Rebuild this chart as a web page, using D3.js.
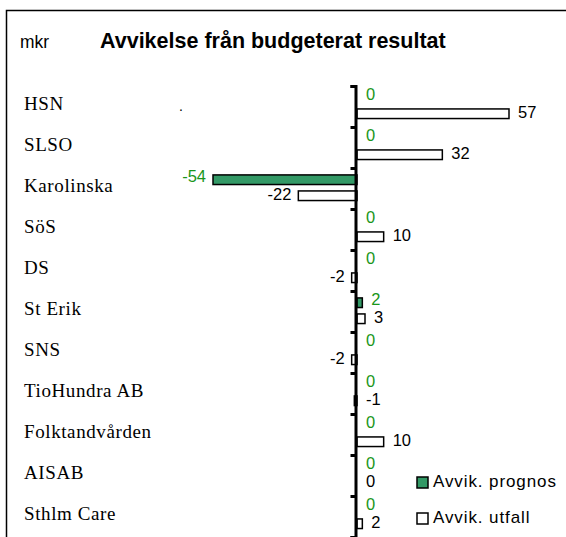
<!DOCTYPE html>
<html>
<head>
<meta charset="utf-8">
<script src="https://cdn.jsdelivr.net/npm/d3@7"></script>
<style>
  body { margin: 0; background: #fff; }
  svg { display: block; }
</style>
</head>
<body>
<div id="chart"></div>
<script>
  // data
  let categories = ["HSN", "SLSO", "Karolinska", "SöS", "DS", "St Erik", "SNS", "TioHundra AB", "Folktandvården", "AISAB", "Sthlm Care"];
  let prognos = [0, 0, -54, 0, 0, 2, 0, 0, 0, 0, 0];
  let utfall = [57, 32, -22, 10, -2, 3, -2, -1, 10, 0, 2];
  let seriesNames = ["Avvik. prognos", "Avvik. utfall"];

  let width = 566;
  let height = 537;

  var svg = d3.select("#chart")
    .append("svg")
    .attr("width", width)
    .attr("height", height);

  // frame (cut off on the right and bottom)
  svg.append("path")
    .attr("d", "M6.5,537 V10.5 H566")
    .attr("fill", "none")
    .attr("stroke", "black")
    .attr("stroke-width", 1.5);

  // titles
  svg.append("text")
    .attr("x", 20).attr("y", 48)
    .attr("font-family", "Liberation Sans, Arial, sans-serif")
    .attr("font-size", "19px")
    .attr("textLength", 29)
    .attr("lengthAdjust", "spacingAndGlyphs")
    .text("mkr");

  svg.append("text")
    .attr("x", 100).attr("y", 48)
    .attr("font-family", "Liberation Sans, Arial, sans-serif")
    .attr("font-weight", "bold")
    .attr("font-size", "21.5px")
    .text("Avvikelse från budgeterat resultat");

  // scales
  var x = d3.scaleLinear().domain([-60, 60]).range([197, 517]);
  var y = d3.scaleBand().domain(categories).range([86, 537]);
  var sub = d3.scaleBand().domain(seriesNames).range([0, y.bandwidth()])
    .paddingInner(0.4).paddingOuter(0.48).align(0.45);

  var colors = { "Avvik. prognos": "#339966", "Avvik. utfall": "#ffffff" };
  var labelColors = { "Avvik. prognos": "#1a961a", "Avvik. utfall": "#000000" };
  var labelShift = { "Avvik. prognos": -2.5, "Avvik. utfall": -0.5 };

  var rows = [];
  categories.forEach(function(c, i) {
    rows.push({ cat: c, series: seriesNames[0], value: prognos[i] });
    rows.push({ cat: c, series: seriesNames[1], value: utfall[i] });
  });

  // category labels
  svg.selectAll("text.cat")
    .data(categories)
    .enter()
    .append("text")
    .attr("class", "cat")
    .attr("x", 24)
    .attr("y", function(d) { return y(d) + y.bandwidth() / 2 - 1; })
    .attr("dominant-baseline", "middle")
    .attr("font-family", "Liberation Serif, Times New Roman, serif")
    .attr("font-size", "19px")
    .attr("letter-spacing", "0.6px")
    .text(function(d) { return d; });

  // stray dot in the HSN row
  svg.append("text")
    .attr("x", 179).attr("y", 111)
    .attr("font-family", "Liberation Sans, Arial, sans-serif")
    .attr("font-size", "14px")
    .text(".");

  // bars
  svg.selectAll("rect.bar")
    .data(rows.filter(function(d) { return d.value !== 0; }))
    .enter()
    .append("rect")
    .attr("class", "bar")
    .attr("x", function(d) { return x(Math.min(0, d.value)); })
    .attr("y", function(d) { return y(d.cat) + sub(d.series); })
    .attr("width", function(d) { return Math.abs(x(d.value) - x(0)); })
    .attr("height", sub.bandwidth())
    .attr("fill", function(d) { return colors[d.series]; })
    .attr("stroke", "black")
    .attr("stroke-width", 1.5);

  // value labels
  svg.selectAll("text.val")
    .data(rows)
    .enter()
    .append("text")
    .attr("class", "val")
    .attr("x", function(d) {
      return d.value <= -1.5 ? x(d.value) - 7 : x(Math.max(0, d.value)) + 9;
    })
    .attr("y", function(d) { return y(d.cat) + sub(d.series) + sub.bandwidth() / 2 + labelShift[d.series]; })
    .attr("dominant-baseline", "middle")
    .attr("text-anchor", function(d) { return d.value <= -1.5 ? "end" : "start"; })
    .attr("font-family", "Liberation Sans, Arial, sans-serif")
    .attr("font-size", "16.5px")
    .attr("fill", function(d) { return labelColors[d.series]; })
    .text(function(d) { return d.value; });

  // vertical axis at zero, ticks on band boundaries
  var edge = d3.scaleLinear().domain([0, categories.length]).range([86, 537]);
  var axis = svg.append("g")
    .attr("transform", "translate(" + (x(0) - 1.5) + ",0)")
    .call(d3.axisLeft(edge).ticks(categories.length).tickSize(5).tickSizeOuter(5).tickFormat(""));
  axis.selectAll("path, line")
    .attr("stroke", "black")
    .attr("stroke-width", 3);

  // legend
  var legend = svg.selectAll("g.legend")
    .data(seriesNames)
    .enter()
    .append("g")
    .attr("class", "legend")
    .attr("transform", function(d, i) { return "translate(417," + (477 + i * 36) + ")"; });

  legend.append("rect")
    .attr("width", 11)
    .attr("height", 11)
    .attr("fill", function(d) { return colors[d]; })
    .attr("stroke", "black")
    .attr("stroke-width", 1.5);

  legend.append("text")
    .attr("x", 16)
    .attr("y", 6)
    .attr("dominant-baseline", "middle")
    .attr("font-family", "Liberation Sans, Arial, sans-serif")
    .attr("font-size", "17px")
    .attr("letter-spacing", "0.9px")
    .text(function(d) { return d; });
</script>
</body>
</html>
